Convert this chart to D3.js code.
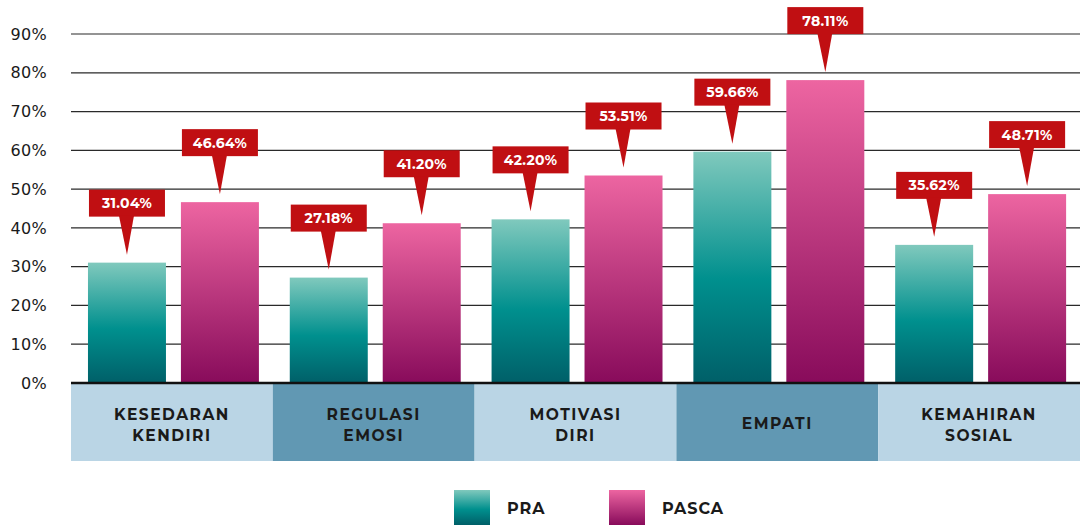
<!DOCTYPE html>
<html>
<head>
<meta charset="utf-8">
<script src="https://cdn.jsdelivr.net/npm/d3@7"></script>
<style>
  html, body { margin: 0; padding: 0; background: #fff; }
  svg { display: block; font-family: "Montserrat", "DejaVu Sans", "Open Sans", sans-serif; }
</style>
</head>
<body>
<svg id="chart" width="1080" height="525"></svg>
<script>
// Chart data
const categories = [["KESEDARAN", "KENDIRI"], ["REGULASI", "EMOSI"], ["MOTIVASI", "DIRI"], ["EMPATI"], ["KEMAHIRAN", "SOSIAL"]];
const seriesNames = ["PRA", "PASCA"];
const praValues = [31.04, 27.18, 42.20, 59.66, 35.62];
const pascaValues = [46.64, 41.20, 53.51, 78.11, 48.71];
const yTicks = [0, 10, 20, 30, 40, 50, 60, 70, 80, 90];

const svg = d3.select("#chart");
const margin = { left: 71, right: 0, top: 34, bottom: 142 };
const W = 1080, H = 525;
const plotBottom = 383;

const x0 = d3.scaleBand().domain(d3.range(categories.length)).range([margin.left, W]).padding(0);
const x1 = d3.scaleBand().domain(seriesNames).range([0, x0.bandwidth()])
  .paddingInner(0.161).paddingOuter(0.166).align(0.55);
const y = d3.scaleLinear().domain([0, 90]).range([plotBottom, margin.top]);

// Gradients
const defs = svg.append("defs");
const grads = {
  PRA: [["0%", "#80c9bd"], ["55%", "#00908e"], ["100%", "#005f68"]],
  PASCA: [["0%", "#ed65a1"], ["100%", "#880b5b"]]
};
Object.entries(grads).forEach(([k, stops]) => {
  const g = defs.append("linearGradient").attr("id", "g-" + k).attr("x1", 0).attr("y1", 0).attr("x2", 0).attr("y2", 1);
  stops.forEach(([o, c]) => g.append("stop").attr("offset", o).attr("stop-color", c));
});

// Gridlines
svg.append("g").selectAll("line").data(yTicks.filter(d => d > 0)).join("line")
  .attr("x1", margin.left).attr("x2", W)
  .attr("y1", d => y(d)).attr("y2", d => y(d))
  .attr("stroke", "#2a2a2a").attr("stroke-width", 1.2);

// Y axis labels
const yAxis = d3.axisLeft(y).tickValues(yTicks).tickFormat(d => d + "%").tickSize(0).tickPadding(0);
const ya = svg.append("g").attr("transform", "translate(47,0)").call(yAxis);
ya.select(".domain").remove();
ya.selectAll("text").attr("font-size", 16).attr("font-weight", 500).attr("fill", "#1a1a1a")
  .attr("font-family", "'DejaVu Sans', sans-serif").attr("letter-spacing", "0.3");

// Category bands
const band = svg.append("g").selectAll("g").data(categories).join("g")
  .attr("transform", (d, i) => `translate(${x0(i)},${plotBottom})`);
band.append("rect").attr("width", x0.bandwidth()).attr("height", 78)
  .attr("fill", (d, i) => i % 2 ? "#6198b3" : "#bad5e5");
band.each(function (lines) {
  const t = d3.select(this).append("text").attr("text-anchor", "middle")
    .attr("font-size", 15.5).attr("font-weight", 700).attr("fill", "#1a1a1a").attr("letter-spacing", "1.5");
  const startY = lines.length === 1 ? 46 : 37;
  lines.forEach((l, j) => t.append("tspan").attr("x", x0.bandwidth() / 2).attr("y", startY + j * 21).text(l));
});

// Bars
const rows = categories.map((c, i) => [
  { key: "PRA", value: praValues[i], i },
  { key: "PASCA", value: pascaValues[i], i }
]);
const groups = svg.append("g").selectAll("g").data(rows).join("g")
  .attr("transform", (d, i) => `translate(${x0(i)},0)`);
groups.selectAll("rect").data(d => d).join("rect")
  .attr("x", d => x1(d.key)).attr("width", x1.bandwidth())
  .attr("y", d => y(d.value)).attr("height", d => plotBottom - y(d.value))
  .attr("fill", d => `url(#g-${d.key})`);

// Baseline
svg.append("line").attr("x1", margin.left).attr("x2", W).attr("y1", plotBottom).attr("y2", plotBottom)
  .attr("stroke", "#111").attr("stroke-width", 2.5);

// Value callouts
const boxW = 76, boxH = 27;
groups.selectAll("g.callout").data(d => d).join("g").attr("class", "callout")
  .attr("transform", d => `translate(${x1(d.key) + x1.bandwidth() / 2},${y(d.value)})`)
  .each(function (d) {
    const g = d3.select(this);
    const bb = -46, tip = -8;
    g.append("rect").attr("x", -boxW / 2).attr("y", bb - boxH).attr("width", boxW).attr("height", boxH).attr("fill", "#c00f12");
    g.append("path").attr("d", `M-8,${bb - 1}L7,${bb - 1}L0,${tip}Z`).attr("fill", "#c00f12");
    g.append("text").attr("text-anchor", "middle").attr("y", bb - boxH / 2 + 5)
      .attr("font-size", 14).attr("font-weight", 700).attr("fill", "#fff").attr("letter-spacing", "0.3")
      .text(d.value.toFixed(2) + "%");
  });

// Legend
const legend = svg.append("g").selectAll("g").data(seriesNames).join("g")
  .attr("transform", (d, i) => `translate(${454 + i * 155},490)`);
legend.append("rect").attr("width", 36).attr("height", 35).attr("fill", d => `url(#g-${d})`);
legend.append("text").attr("x", 53).attr("y", 24).attr("font-size", 16).attr("font-weight", 700)
  .attr("fill", "#1a1a1a").attr("letter-spacing", "1").text(d => d);
</script>
</body>
</html>
